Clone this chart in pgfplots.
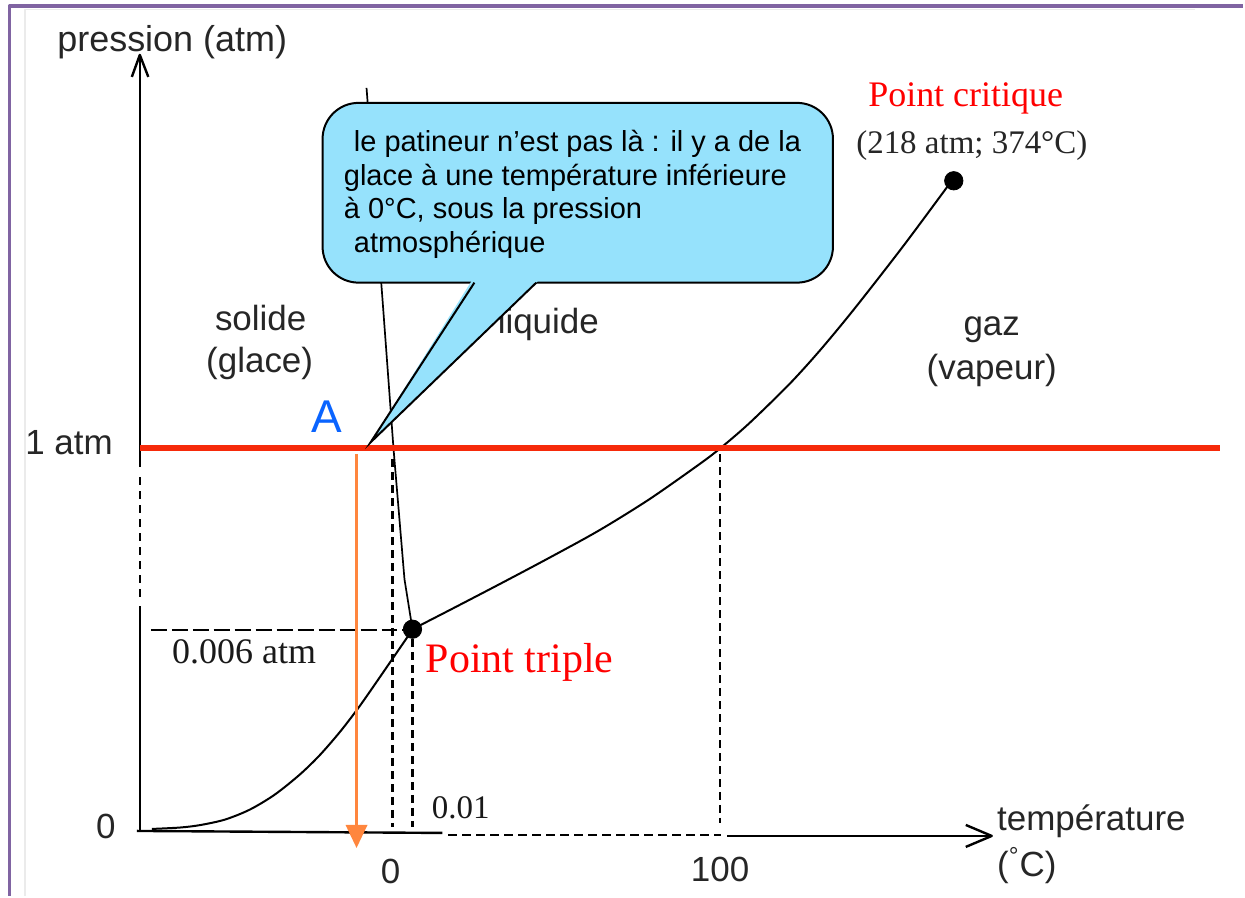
\documentclass[border=0pt]{standalone}
\usepackage{pgfplots}
\pgfplotsset{compat=1.18}
\usepackage{fontspec}
\setmainfont{Liberation Sans}
\newfontfamily\serif{Liberation Serif}
\definecolor{framec}{RGB}{128,100,162}
\definecolor{redline}{RGB}{246,42,10}
\definecolor{orangeA}{RGB}{255,134,62}
\definecolor{bubble}{RGB}{150,226,252}
\definecolor{blueA}{RGB}{10,100,255}
\definecolor{critred}{RGB}{255,0,0}
\begin{document}
\begin{tikzpicture}
\begin{axis}[
  width=622.5pt, height=448.5pt, scale only axis,
  xmin=0, xmax=1245, ymin=0, ymax=897, y dir=reverse,
  hide axis, clip=false,
  every axis plot/.append style={line join=round, line cap=butt}
]
\path (axis cs:0,0) rectangle (axis cs:1245,897);
% frame
\addplot[draw=black!8, line width=0.6pt] coordinates {(25,897) (25,9.5) (1197,9.5)};
\addplot[draw=framec, line width=1.6pt] coordinates {(9.5,897) (9.5,6) (1245,6)};

% y axis
\addplot[black, line width=1.2pt] coordinates {(140,56) (140,468)};
\addplot[black, line width=1.2pt] coordinates {(132,77) (140,55) (148.5,77)};
\addplot[black, line width=1.2pt, dash pattern=on 4pt off 3pt] coordinates {(140,478) (140,600)};
\addplot[black, line width=1.2pt] coordinates {(140,607) (140,831)};
% x axis
\addplot[black, line width=1.2pt] coordinates {(137,832) (443,834)};
\addplot[black, line width=1.2pt, dash pattern=on 4.5pt off 2.5pt] coordinates {(449,836) (722,836)};
\addplot[black, line width=1.2pt] coordinates {(728,837) (992,837)};
\addplot[black, line width=1.2pt] coordinates {(967,826) (993,837) (967,848)};

% dashed guides
\addplot[black, line width=1.1pt, dash pattern=on 8pt off 2.5pt] coordinates {(151,631) (405,631)};
\addplot[black, line width=1.1pt, dash pattern=on 4pt off 2.5pt] coordinates {(393,460) (393,828)};
\addplot[black, line width=1.1pt, dash pattern=on 4pt off 2.5pt] coordinates {(413,640) (413,828)};
\addplot[black, line width=1.1pt, dash pattern=on 4pt off 2.5pt] coordinates {(721,455) (721,824)};

% sublimation curve
\addplot[black, line width=1pt, smooth] coordinates {(152,830) (180,828.6) (200,826.2) (225,820.7) (250,810.7) (275,795.7) (300,775.7) (320,756.3) (340,733.3) (357,711.3) (370,693) (393,659.6) (413,630.5)};
% fusion line
\addplot[black, line width=0.85pt] coordinates {(367,88) (383,300) (394,449) (405,580) (413,630)};
% vaporisation curve
\addplot[black, line width=1pt, smooth] coordinates {(413,630) (450,611) (500,585) (550,558.5) (600,531) (650,500) (700,465) (721,449) (750,424) (790,385) (820,352) (850,316) (880,278) (910,239) (950,185)};

% red 1 atm line
\addplot[redline, line width=3pt] coordinates {(140,449) (1222,449)};
% orange arrow
\addplot[orangeA, line width=1.6pt] coordinates {(357,455) (357,830)};
\addplot[orangeA, fill=orangeA, draw=none] coordinates {(346,826) (368,826) (357,849)} -- cycle;

% points
\addplot[only marks, mark=*, mark size=4.6pt, black] coordinates {(413,630) (955,181)};

% region labels (under the bubble)
\node[anchor=base, inner sep=0, font=\fontsize{17.5}{20}\selectfont, text=black!85] at (axis cs:261,331) {solide};
\node[anchor=base, inner sep=0, font=\fontsize{17.5}{20}\selectfont, text=black!85] at (axis cs:260,373) {(glace)};
\node[anchor=base east, inner sep=0, font=\fontsize{17.5}{20}\selectfont, text=black!85] at (axis cs:600,334) {liquide};
\node[anchor=base, inner sep=0, font=\fontsize{17.5}{20}\selectfont, text=black!85] at (axis cs:993,336) {gaz};
\node[anchor=base, inner sep=0, font=\fontsize{17.5}{20}\selectfont, text=black!85] at (axis cs:993,380) {(vapeur)};

% callout bubble
\draw[fill=bubble, line width=1pt, rounded corners=18pt] (axis cs:323,103) rectangle (axis cs:834,283);
\fill[bubble] (axis cs:473,280) -- (axis cs:540,280) -- (axis cs:371,443) -- cycle;
\draw[line width=1pt, line join=miter] (axis cs:475,283) -- (axis cs:371,443) -- (axis cs:537,283);
\node[anchor=base west, inner sep=0, font=\fontsize{14.5}{17}\selectfont] at (axis cs:354,152) {le patineur n’est pas là : il y a de la};
\node[anchor=base west, inner sep=0, font=\fontsize{14.5}{17}\selectfont] at (axis cs:344,186) {glace à une température inférieure};
\node[anchor=base west, inner sep=0, font=\fontsize{14.5}{17}\selectfont] at (axis cs:344,219) {à 0°C, sous la pression};
\node[anchor=base west, inner sep=0, font=\fontsize{14.5}{17}\selectfont] at (axis cs:354,253) {atmosphérique};

% axis labels
\node[anchor=base west, inner sep=0, font=\fontsize{18}{20}\selectfont, text=black!85] at (axis cs:57,52) {pression (atm)};
\node[anchor=base west, inner sep=0, font=\fontsize{17.5}{20}\selectfont, text=black!85] at (axis cs:25,455) {1 atm};
\node[anchor=base, inner sep=0, font=\fontsize{17.5}{20}\selectfont, text=black!85] at (axis cs:106,840) {0};
\node[anchor=base, inner sep=0, font=\fontsize{17.5}{20}\selectfont, text=black!85] at (axis cs:391,885) {0};
\node[anchor=base, inner sep=0, font=\fontsize{17.5}{20}\selectfont, text=black!85] at (axis cs:721,883) {100};
\node[anchor=base west, inner sep=0, font=\fontsize{17.5}{20}\selectfont, text=black!85] at (axis cs:998,832) {température};
\node[anchor=base west, inner sep=0, font=\fontsize{17.5}{20}\selectfont, text=black!85] at (axis cs:998,878) {(\textsuperscript{°}C)};

% point labels
\node[anchor=base, inner sep=0, font=\fontsize{23}{26}\selectfont, text=blueA] at (axis cs:327,433) {A};
\node[anchor=base west, inner sep=0, font=\serif\fontsize{18}{20}\selectfont, text=critred] at (axis cs:869,107) {Point critique};
\node[anchor=base west, inner sep=0, font=\serif\fontsize{16.5}{20}\selectfont, text=black!85] at (axis cs:857,154) {(218 atm; 374°C)};
\node[anchor=base west, inner sep=0, font=\serif\fontsize{18}{20}\selectfont, text=black!90] at (axis cs:172,664) {0.006 atm};
\node[anchor=base west, inner sep=0, font=\serif\fontsize{21}{24}\selectfont, text=critred] at (axis cs:426,673) {Point triple};
\node[anchor=base west, inner sep=0, font=\serif\fontsize{16.5}{20}\selectfont, text=black!90] at (axis cs:432,820) {0.01};
\end{axis}
\end{tikzpicture}
\end{document}
